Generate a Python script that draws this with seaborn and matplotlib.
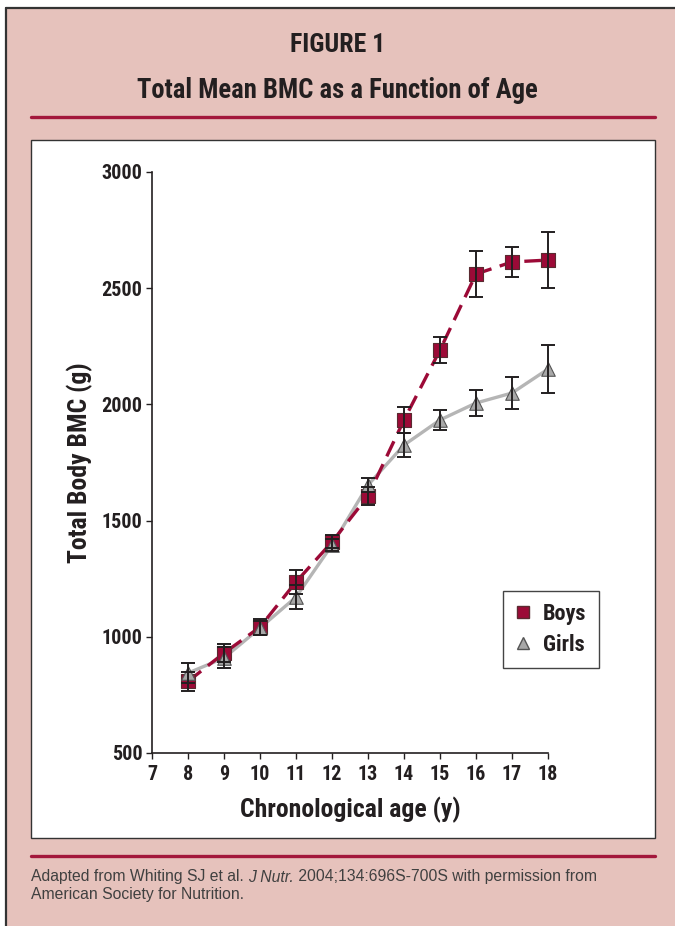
import pandas as pd
import matplotlib
matplotlib.use('Agg')
import matplotlib.pyplot as plt
import seaborn as sns
from matplotlib import font_manager
from matplotlib.patches import Rectangle
from matplotlib.lines import Line2D

# data
ages = [8, 9, 10, 11, 12, 13, 14, 15, 16, 17, 18]
boys_bmc = [808, 930, 1042, 1236, 1408, 1606, 1933, 2234, 2561, 2613, 2621]
boys_err = [40, 40, 35, 50, 28, 40, 55, 58, 100, 65, 120]
girls_bmc = [844, 909, 1038, 1171, 1395, 1653, 1825, 1933, 2006, 2049, 2152]
girls_err = [43, 45, 30, 50, 25, 30, 50, 43, 55, 68, 105]
x_ticks = list(range(7, 19))
y_ticks = [500, 1000, 1500, 2000, 2500, 3000]

df = pd.DataFrame({
    'age': ages * 2,
    'bmc': boys_bmc + girls_bmc,
    'err': boys_err + girls_err,
    'sex': ['Boys'] * len(ages) + ['Girls'] * len(ages),
})

sns.set_style('white')

# pick a condensed bold family if one is installed
bold_fams = {f.name for f in font_manager.fontManager.ttflist if f.weight in (700, 'bold')}
cond = 'DejaVu Sans'
for cand in ['Liberation Sans Narrow', 'Arial Narrow', 'Roboto Condensed', 'Archivo Narrow',
             'PT Sans Narrow', 'Encode Sans Condensed', 'Open Sans Condensed', 'Pragati Narrow',
             'Fira Sans Condensed', 'IBM Plex Sans Condensed', 'Asap Condensed']:
    if cand in bold_fams:
        cond = cand
        break
narrow = [cond, 'DejaVu Sans']
plain = ['Liberation Sans', 'DejaVu Sans']
plt.rcParams['font.family'] = narrow

pink = '#E6C2BC'
rule_red = '#A3173B'
boys_col = '#9C0A37'
girls_col = '#A8A8A8'
girls_line = '#B5B5B5'
ink = '#231F20'

W, H = 675, 926
fig = plt.figure(figsize=(W / 100, H / 100), dpi=100)
fig.patch.set_facecolor('white')


def fx(px):
    return px / W


def fy(py):
    return 1 - py / H


# pink panel with dark border on top/left
fig.add_artist(Rectangle((fx(6), 0), 1 - fx(6) + 0.01, fy(8), transform=fig.transFigure,
                         facecolor=pink, edgecolor='none', zorder=-3))
fig.add_artist(Line2D([fx(6), fx(6)], [0, fy(8)], transform=fig.transFigure, color='#333333',
                      lw=1.6, zorder=-2))
fig.add_artist(Line2D([fx(6), 1], [fy(8), fy(8)], transform=fig.transFigure, color='#333333',
                      lw=1.6, zorder=-2))

# titles
fig.text(0.5, fy(45), 'FIGURE 1', ha='center', va='center', fontsize=18.5, fontweight='bold', color=ink)
fig.text(0.5, fy(91), 'Total Mean BMC as a Function of Age', ha='center', va='center',
         fontsize=19.2, fontweight='bold', color=ink)

# red rules
for yy in (117, 856):
    fig.add_artist(Line2D([fx(31), fx(655)], [fy(yy), fy(yy)], transform=fig.transFigure,
                          color=rule_red, lw=2.4, zorder=-2))

# white plot box
fig.add_artist(Rectangle((fx(31), fy(838)), fx(655) - fx(31), fy(140) - fy(838),
                         transform=fig.transFigure, facecolor='white', edgecolor='#333333',
                         lw=1.0, zorder=-1))

ax = fig.add_axes([fx(152), fy(753), fx(548) - fx(152), fy(172) - fy(753)])
ax.set_facecolor('none')
ax.set_zorder(2)

# footnote, pieced together for the italic journal name
foot_kw = dict(fontsize=11.3, color='#404040', family=plain)
t1 = fig.text(fx(31), fy(877), 'Adapted from Whiting SJ et al. ', ha='left', va='center', **foot_kw)
t2 = ax.annotate('J Nutr.', xy=(1, 0), xycoords=t1, ha='left', va='bottom', style='italic', **foot_kw)
ax.annotate(' 2004;134:696S-700S with permission from', xy=(1, 0), xycoords=t2,
            ha='left', va='bottom', **foot_kw)
fig.text(fx(31), fy(895), 'American Society for Nutrition.', ha='left', va='center', **foot_kw)

boys = df[df['sex'] == 'Boys']
girls = df[df['sex'] == 'Girls']

sns.lineplot(data=girls, x='age', y='bmc', ax=ax, color=girls_line, lw=2.4, zorder=2,
             legend=False, clip_on=False)
sns.lineplot(data=boys, x='age', y='bmc', ax=ax, color=boys_col, lw=2.4, zorder=3,
             legend=False, clip_on=False)
ax.lines[-1].set_dashes((5, 2.6))

ax.scatter(boys['age'], boys['bmc'], marker='s', s=95, color=boys_col, edgecolor='#5a2a30',
           linewidth=0.8, zorder=4, clip_on=False)
ax.scatter(girls['age'], girls['bmc'], marker='^', s=95, color=girls_col, edgecolor='#555555',
           linewidth=0.8, zorder=5, clip_on=False)

for sub in (boys, girls):
    ax.errorbar(sub['age'], sub['bmc'], yerr=sub['err'], fmt='none', ecolor=ink,
                elinewidth=1.4, capsize=5, capthick=1.4, zorder=6, clip_on=False)

ax.set_xlim(7, 18)
ax.set_ylim(500, 3000)
ax.set_xticks(x_ticks)
ax.set_yticks(y_ticks)
ax.tick_params(axis='both', direction='out', length=4, width=1, color=ink, labelsize=14.5,
               labelcolor=ink, pad=3, left=True, bottom=True)
ax.tick_params(axis='x', pad=5)
for lab in ax.get_xticklabels() + ax.get_yticklabels():
    lab.set_fontweight('bold')
for side in ('top', 'right'):
    ax.spines[side].set_visible(False)
for side in ('left', 'bottom'):
    ax.spines[side].set_color(ink)
    ax.spines[side].set_linewidth(1.2)

ax.set_xlabel('Chronological age (y)', fontsize=18.5, fontweight='bold', color=ink, labelpad=9)
ax.set_ylabel('Total Body BMC (g)', fontsize=18.5, fontweight='bold', color=ink, labelpad=6)

handles = [
    Line2D([], [], marker='s', color='none', markerfacecolor=boys_col, markeredgecolor='#5a2a30',
           markersize=9, label='Boys'),
    Line2D([], [], marker='^', color='none', markerfacecolor=girls_col, markeredgecolor='#555555',
           markersize=9, label='Girls'),
]
leg = ax.legend(handles=handles, loc='upper left', bbox_to_anchor=(fx(503), fy(591)),
                bbox_transform=fig.transFigure,
                frameon=True, fancybox=False, edgecolor='#444444', framealpha=1,
                prop={'family': narrow, 'weight': 'bold', 'size': 16}, handlelength=0.7,
                handletextpad=0.55, labelspacing=0.4, borderpad=0.55, borderaxespad=0)
leg.get_frame().set_linewidth(1.0)
for t in leg.get_texts():
    t.set_color(ink)

fig.savefig('out.png', dpi=100, facecolor=fig.get_facecolor())
